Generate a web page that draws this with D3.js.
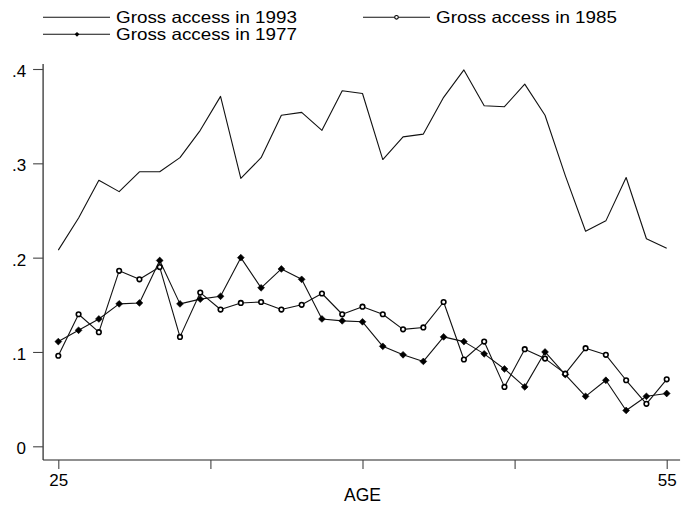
<!DOCTYPE html>
<html>
<head>
<meta charset="utf-8">
<script src="https://cdn.jsdelivr.net/npm/d3@7/dist/d3.min.js"></script>
<style>
  html, body { margin: 0; padding: 0; background: #fff; }
  svg { display: block; }
  text { font-family: Arial, "Liberation Sans", Helvetica, sans-serif; fill: #000; }
</style>
</head>
<body>
<svg id="chart" width="682" height="511"></svg>
<script>
// Ages 25..55
const ages = d3.range(25, 56);

// Gross access rates by age, three survey years
const access1993 = [0.208, 0.242, 0.282, 0.270, 0.291, 0.291, 0.306, 0.335, 0.371, 0.284,
                    0.306, 0.351, 0.354, 0.335, 0.377, 0.374, 0.304, 0.328, 0.331, 0.370,
                    0.399, 0.361, 0.360, 0.384, 0.351, 0.287, 0.228, 0.239, 0.285, 0.220, 0.210];
const access1985 = [0.096, 0.140, 0.121, 0.186, 0.177, 0.190, 0.116, 0.163, 0.145, 0.152,
                    0.153, 0.145, 0.150, 0.162, 0.140, 0.148, 0.140, 0.124, 0.126, 0.153,
                    0.092, 0.111, 0.063, 0.103, 0.093, 0.077, 0.104, 0.097, 0.070, 0.045, 0.071];
const access1977 = [0.111, 0.123, 0.135, 0.151, 0.152, 0.197, 0.151, 0.156, 0.159, 0.200,
                    0.168, 0.188, 0.177, 0.135, 0.133, 0.132, 0.106, 0.097, 0.090, 0.116,
                    0.111, 0.098, 0.082, 0.063, 0.100, 0.076, 0.053, 0.070, 0.038, 0.053, 0.056];

const xTickValues = [25, 32.5, 40, 47.5, 55];
const xTickLabels = {25: "25", 55: "55"};
const yTickValues = [0, 0.1, 0.2, 0.3, 0.4];
const yTickLabels = ["0", ".1", ".2", ".3", ".4"];

const legendLabels = ["Gross access in 1993", "Gross access in 1985", "Gross access in 1977"];

const svg = d3.select("#chart");

const x = d3.scaleLinear().domain([25, 55]).range([58.3, 666.7]);
const y = d3.scaleLinear().domain([0, 0.4]).range([446.3, 69]);

// axis lines (L-shaped frame)
const xMin = 24.25, xMax = 55.66, yMin = -0.0145, yMax = 0.4054;
svg.append("line")
  .attr("x1", x(xMin)).attr("x2", x(xMin))
  .attr("y1", y(yMin)).attr("y2", y(yMax))
  .attr("stroke", "#222").attr("stroke-width", 1.2);
svg.append("line")
  .attr("x1", x(xMin)).attr("x2", x(xMax))
  .attr("y1", y(yMin)).attr("y2", y(yMin))
  .attr("stroke", "#222").attr("stroke-width", 1.2);

// y axis
const yAxis = d3.axisLeft(y)
  .tickValues(yTickValues)
  .tickSize(10)
  .tickPadding(7)
  .tickFormat((d, i) => yTickLabels[i]);
const gy = svg.append("g")
  .attr("transform", `translate(${x(xMin)},0)`)
  .call(yAxis);
gy.select(".domain").remove();
gy.selectAll(".tick line").attr("stroke", "#444").attr("stroke-width", 1.1);
gy.selectAll(".tick text")
  .attr("font-size", 17).attr("dy", "0.45em")
  .style("font-family", "Arial, 'Liberation Sans', sans-serif").attr("fill", "#000");

// x axis
const xAxis = d3.axisBottom(x)
  .tickValues(xTickValues)
  .tickSize(9)
  .tickPadding(5)
  .tickFormat(d => xTickLabels[d] || "");
const gx = svg.append("g")
  .attr("transform", `translate(0,${y(yMin)})`)
  .call(xAxis);
gx.select(".domain").remove();
gx.selectAll(".tick line").attr("stroke", "#444").attr("stroke-width", 1.1);
gx.selectAll(".tick text")
  .attr("font-size", 17)
  .style("font-family", "Arial, 'Liberation Sans', sans-serif").attr("fill", "#000");

svg.append("text")
  .attr("x", x(40)).attr("y", 501)
  .attr("text-anchor", "middle")
  .attr("font-size", 17.5)
  .text("AGE");

// series
const line = d3.line().x((d, i) => x(ages[i])).y(d => y(d));

function drawSeries(values) {
  svg.append("path")
    .datum(values)
    .attr("d", line)
    .attr("fill", "none")
    .attr("stroke", "#111")
    .attr("stroke-width", 1.1)
    .attr("stroke-linejoin", "round");
}

const diamond = s => `M0,${-s}L${s},0L0,${s}L${-s},0Z`;

drawSeries(access1993);
drawSeries(access1985);
drawSeries(access1977);

svg.append("g").selectAll("path")
  .data(access1977)
  .join("path")
  .attr("transform", (d, i) => `translate(${x(ages[i])},${y(d)})`)
  .attr("d", diamond(3.4))
  .attr("fill", "#000")
  .attr("stroke", "#000")
  .attr("stroke-width", 0.6);

svg.append("g").selectAll("circle")
  .data(access1985)
  .join("circle")
  .attr("cx", (d, i) => x(ages[i]))
  .attr("cy", d => y(d))
  .attr("r", 2.3)
  .attr("fill", "#fff")
  .attr("stroke", "#000")
  .attr("stroke-width", 1.6);

// legend
const legend = svg.append("g");
const items = [
  {label: legendLabels[0], lx: 43, ly: 17.3, marker: null},
  {label: legendLabels[1], lx: 363, ly: 17.3, marker: "circle"},
  {label: legendLabels[2], lx: 43, ly: 34.3, marker: "diamond"}
];
items.forEach(it => {
  const g = legend.append("g");
  g.append("line")
    .attr("x1", it.lx).attr("x2", it.lx + 67)
    .attr("y1", it.ly).attr("y2", it.ly)
    .attr("stroke", "#111").attr("stroke-width", 1.1);
  if (it.marker === "circle") {
    g.append("circle")
      .attr("cx", it.lx + 33.5).attr("cy", it.ly).attr("r", 1.8)
      .attr("fill", "#fff").attr("stroke", "#000").attr("stroke-width", 1.1);
  } else if (it.marker === "diamond") {
    g.append("path")
      .attr("transform", `translate(${it.lx + 34},${it.ly})`)
      .attr("d", diamond(2.4))
      .attr("fill", "#000");
  }
  g.append("text")
    .attr("x", it.lx + 73).attr("y", it.ly + 5.6)
    .attr("font-size", 16.5)
    .attr("textLength", 181)
    .attr("lengthAdjust", "spacingAndGlyphs")
    .text(it.label);
});
</script>
</body>
</html>
